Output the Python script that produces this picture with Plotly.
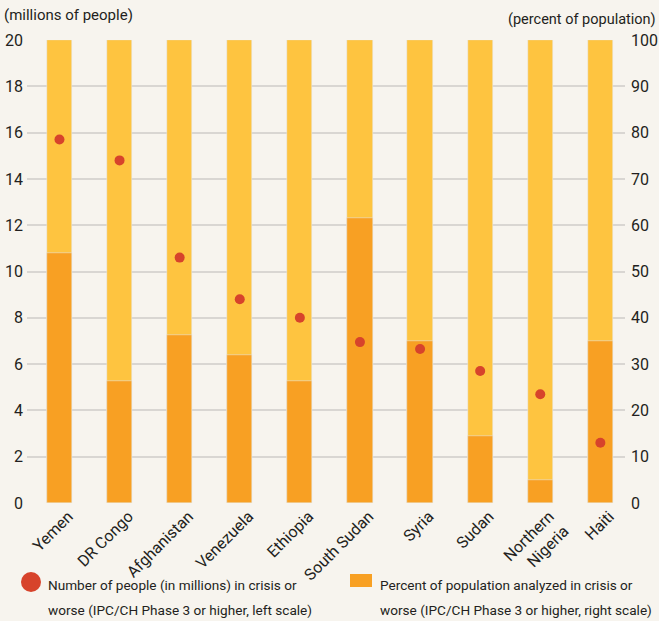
import plotly.graph_objects as go

countries = ["Yemen", "DR Congo", "Afghanistan", "Venezuela", "Ethiopia",
             "South Sudan", "Syria", "Sudan", "Northern<br>Nigeria", "Haiti"]
people_millions = [15.7, 14.8, 10.6, 8.8, 8.0, 6.95, 6.65, 5.7, 4.7, 2.6]
percent_population = [54, 26.4, 36.2, 32, 26.4, 61.6, 35, 14.5, 5, 35]
full_scale = [100] * len(countries)

FONT = "Roboto, 'Noto Sans', sans-serif"
TXT = "#231F20"
LIGHT = "#FEC440"
DARK = "#F8A023"
RED = "#D7432B"
W, H = 659, 621
L, R, T, B = 27, 625, 40, 503


def px(x):
    return (x - L) / (R - L)


def py(y):
    return (B - y) / (B - T)


fig = go.Figure()
fig.add_trace(go.Bar(x=countries, y=full_scale, marker_color=LIGHT, width=0.42,
                     yaxis="y", showlegend=False, hoverinfo="skip"))
fig.add_trace(go.Bar(x=countries, y=percent_population, marker_color=DARK, width=0.42,
                     yaxis="y", showlegend=False,
                     name="Percent of population analyzed in crisis or worse"))
fig.add_trace(go.Scatter(x=countries, y=people_millions, mode="markers", yaxis="y2",
                         marker=dict(color=RED, size=10), showlegend=False,
                         name="Number of people (in millions)"))

LEG = 13.6
annotations = [
    dict(text="(millions of people)", x=px(2), y=py(15), xanchor="left", yanchor="middle",
         size=15),
    dict(text="(percent of population)", x=px(658), y=py(20), xanchor="right",
         yanchor="middle", size=14.5),
    dict(text="Number of people (in millions) in crisis or", x=px(46), y=py(585),
         xanchor="left", yanchor="middle", size=LEG),
    dict(text="worse (IPC/CH Phase 3 or higher, left scale)", x=px(46), y=py(610),
         xanchor="left", yanchor="middle", size=LEG),
    dict(text="Percent of population analyzed in crisis or", x=px(378), y=py(585),
         xanchor="left", yanchor="middle", size=LEG),
    dict(text="worse (IPC/CH Phase 3 or higher, right scale)", x=px(378), y=py(610),
         xanchor="left", yanchor="middle", size=LEG),
]
for a in annotations:
    s = a.pop("size")
    a.update(xref="paper", yref="paper", showarrow=False,
             font=dict(family=FONT, size=s, color=TXT))

shapes = [
    dict(type="circle", xref="paper", yref="paper", xsizemode="pixel", ysizemode="pixel",
         xanchor=px(31), yanchor=py(582), x0=-10, x1=10, y0=-10, y1=10,
         fillcolor=RED, line_width=0),
    dict(type="rect", xref="paper", yref="paper", xsizemode="pixel", ysizemode="pixel",
         xanchor=px(361), yanchor=py(580.5), x0=-11, x1=11, y0=-6.5, y1=6.5,
         fillcolor=DARK, line_width=0),
]

fig.update_layout(
    width=W, height=H,
    margin=dict(l=L, r=W - R, t=T, b=H - B, autoexpand=False),
    paper_bgcolor="#F7F4EE", plot_bgcolor="rgba(0,0,0,0)",
    barmode="overlay", bargap=0,
    font=dict(family=FONT, size=16, color=TXT),
    showlegend=False,
    xaxis=dict(range=[-0.54, 9.41], tickangle=-45, showgrid=False, zeroline=False,
               showline=False, ticks="", tickfont=dict(size=16), automargin=False,
               ticklabelshift=9),
    yaxis=dict(side="right", range=[0, 100], dtick=10, showgrid=True,
               gridcolor="#D9D6D2", gridwidth=2, zeroline=False, ticks="",
               ticklabelstandoff=5, tickfont=dict(size=16), automargin=False),
    yaxis2=dict(side="left", overlaying="y", range=[0, 20], dtick=2, showgrid=False,
                zeroline=False, ticks="", ticklabelstandoff=3, tickfont=dict(size=16),
                automargin=False),
    annotations=annotations,
    shapes=shapes,
)

fig.write_html("out.html", config={"displayModeBar": False},
               post_script="document.body.style.margin='0';document.body.style.background='#F7F4EE';")
